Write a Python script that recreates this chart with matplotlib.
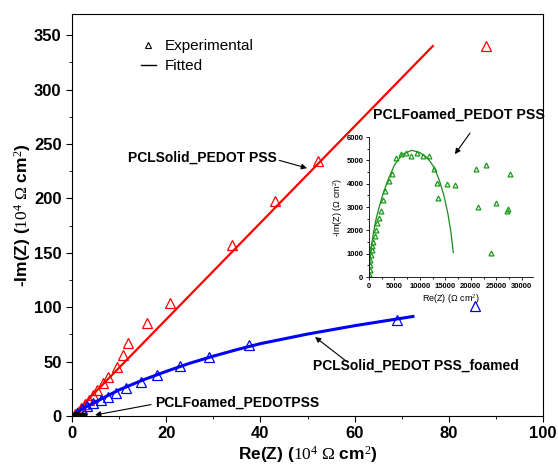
import matplotlib
matplotlib.use('Agg')
import matplotlib.pyplot as plt
import numpy as np
from matplotlib.lines import Line2D

plt.rcParams['font.family'] = ['Liberation Sans', 'DejaVu Sans']
plt.rcParams['mathtext.fontset'] = 'custom'
plt.rcParams['mathtext.rm'] = 'Liberation Serif'
plt.rcParams['mathtext.it'] = 'Liberation Serif:italic'
plt.rcParams['mathtext.bf'] = 'Liberation Serif:bold'

# PCLSolid_PEDOT PSS (10^4 ohm cm2)
red_re = [0.6, 1.3, 1.9, 2.8, 3.6, 4.5, 5.3, 6.5, 7.6, 9.5, 10.8, 11.9, 15.9, 20.8, 34, 43.1, 52.2, 88]
red_im = [1.8, 3.7, 7.4, 11, 14.7, 19.5, 24, 30, 36, 45, 56, 67, 85.6, 104, 157, 198, 234, 340]
red_fit_re = [0, 76.6]
red_fit_im = [0, 340]

# PCLSolid_PEDOT PSS_foamed
blue_re = [1.0, 2.1, 3.2, 4.5, 6.2, 7.6, 9.3, 11.5, 14.6, 18, 23, 29, 37.6, 69, 85.6]
blue_im = [3, 6.4, 9, 12, 14.7, 17.5, 21, 26, 31, 38, 46, 54, 65.5, 88, 101]
blue_fit_re = [0, 2, 5, 10, 15, 20, 25, 30, 35, 40, 50, 60, 72.4]
blue_fit_im = [0, 6, 13, 24, 33, 41, 48.5, 55, 61, 66.5, 75.3, 83, 91.5]

# PCLFoamed_PEDOT PSS (ohm cm2)
foam_re = [70, 130, 200, 260, 390, 530, 650, 850, 1110, 1370, 1630, 1960, 2290, 2680, 3200, 3860, 4450,
           5230, 6210, 7250, 8240, 9480, 10520, 11830, 12750, 13400, 13470, 15230, 16800,
           21100, 21310, 23070, 24050, 24840, 27120, 27200, 27650]
foam_im = [130, 300, 520, 730, 950, 1140, 1310, 1520, 1740, 2030, 2320, 2530, 2850, 3280, 3680, 4110, 4430,
           5120, 5280, 5310, 5190, 5310, 5190, 5190, 4650, 4010, 3400, 4000, 3940,
           4620, 3010, 4800, 1020, 3180, 2850, 2900, 4430]
foam_fit_re = [0, 150, 400, 800, 1300, 2000, 2800, 3800, 5000, 6500, 8400, 10000, 11500, 12800, 13800,
               14700, 15500, 16100, 16550]
foam_fit_im = [0, 600, 1200, 1800, 2400, 3000, 3600, 4200, 4800, 5250, 5430, 5330, 5100, 4700, 4150,
               3500, 2700, 1900, 1050]

fig = plt.figure(figsize=(5.58, 4.65), dpi=100)
ax = fig.add_axes([72 / 558, 1 - 416 / 465, 471 / 558, 402 / 465])

ax.plot(red_fit_re, red_fit_im, color='red', lw=1.6)
ax.plot(red_re, red_im, ls='none', marker='^', mfc='none', mec='red', ms=7, mew=0.9)
ax.plot(blue_fit_re, blue_fit_im, color='blue', lw=2.2)
ax.plot(blue_re, blue_im, ls='none', marker='^', mfc='none', mec='blue', ms=7, mew=0.9)
ax.plot(np.array(foam_re) / 1e4, np.array(foam_im) / 1e4, ls='none', marker='^', mfc='none',
        mec='black', ms=5, mew=0.8)

ax.set_xlim(0, 100)
ax.set_ylim(0, 369.5)
ax.set_xticks([0, 20, 40, 60, 80, 100])
ax.set_xticks([10, 30, 50, 70, 90], minor=True)
ax.set_yticks(np.arange(0, 351, 50))
ax.set_yticks(np.arange(25, 351, 50), minor=True)
ax.tick_params(which='both', direction='out', top=False, right=False)
ax.tick_params(which='major', length=4, labelsize=12)
ax.tick_params(which='minor', length=2.5)
for lab in ax.get_xticklabels() + ax.get_yticklabels():
    lab.set_fontweight('bold')

ax.set_xlabel(r'Re(Z) ($10^4\ \Omega$ cm$^2$)', fontsize=12.5, fontweight='bold', labelpad=2)
ax.set_ylabel(r'-Im(Z) ($10^4\ \Omega$ cm$^2$)', fontsize=12.5, fontweight='bold', labelpad=1)

handles = [Line2D([], [], ls='none', marker='^', mfc='none', mec='black', ms=5, mew=0.8),
           Line2D([], [], color='black', lw=1)]
ax.legend(handles, ['Experimental', 'Fitted'], loc='upper left', bbox_to_anchor=(0.146, 0.937),
          frameon=False, fontsize=11, handlelength=1.0, handletextpad=0.6, labelspacing=0.4,
          borderpad=0, borderaxespad=0)

arrow = dict(arrowstyle='-|>', color='black', lw=0.8, mutation_scale=8, shrinkA=0, shrinkB=0)
ax.text(11.9, 237, 'PCLSolid_PEDOT PSS', fontsize=10, fontweight='bold', ha='left', va='center')
ax.annotate('', xy=(49.9, 227.8), xytext=(44.0, 235), arrowprops=arrow)
ax.text(51.2, 45.9, 'PCLSolid_PEDOT PSS_foamed', fontsize=10, fontweight='bold', ha='left', va='center')
ax.annotate('', xy=(51.6, 72.6), xytext=(58.5, 49.5), arrowprops=arrow)
ax.text(17.6, 11.9, 'PCLFoamed_PEDOTPSS', fontsize=10, fontweight='bold', ha='left', va='center')
ax.annotate('', xy=(4.9, 0.9), xytext=(16.8, 10.5), arrowprops=arrow)
ax.text(63.9, 276.5, 'PCLFoamed_PEDOT PSS', fontsize=10.2, fontweight='bold', ha='left', va='center')
ax.annotate('', xy=(81.3, 240.7), xytext=(84.5, 260), arrowprops=arrow)

# inset
ins = fig.add_axes([369 / 558, 1 - 277 / 465, 164 / 558, 140 / 465])
ins.plot(foam_fit_re, foam_fit_im, color='#1a8a1a', lw=0.9)
ins.plot(foam_re, foam_im, ls='none', marker='^', mfc='none', mec='#1a9a1a', ms=3.5, mew=0.9)
ins.set_xlim(0, 32200)
ins.set_ylim(0, 6000)
ins.set_xticks(np.arange(0, 30001, 5000))
ins.set_xticks(np.arange(2500, 32001, 5000), minor=True)
ins.set_yticks(np.arange(0, 6001, 1000))
ins.set_yticks(np.arange(500, 6000, 1000), minor=True)
ins.spines['top'].set_visible(False)
ins.spines['right'].set_visible(False)
ins.patch.set_alpha(0)
ins.tick_params(which='both', direction='out', width=0.6)
ins.tick_params(which='major', length=2.5, labelsize=5.5, pad=1.5)
ins.tick_params(which='minor', length=1.5)
for lab in ins.get_xticklabels() + ins.get_yticklabels():
    lab.set_fontweight('bold')
for s in ins.spines.values():
    s.set_linewidth(0.6)
ins.set_xlabel('Re(Z) (Ω cm$^2$)', fontsize=6.5, labelpad=2)
ins.set_ylabel('-Im(Z) (Ω cm$^2$)', fontsize=6.5, labelpad=2)

fig.savefig('out.png', dpi=100)
